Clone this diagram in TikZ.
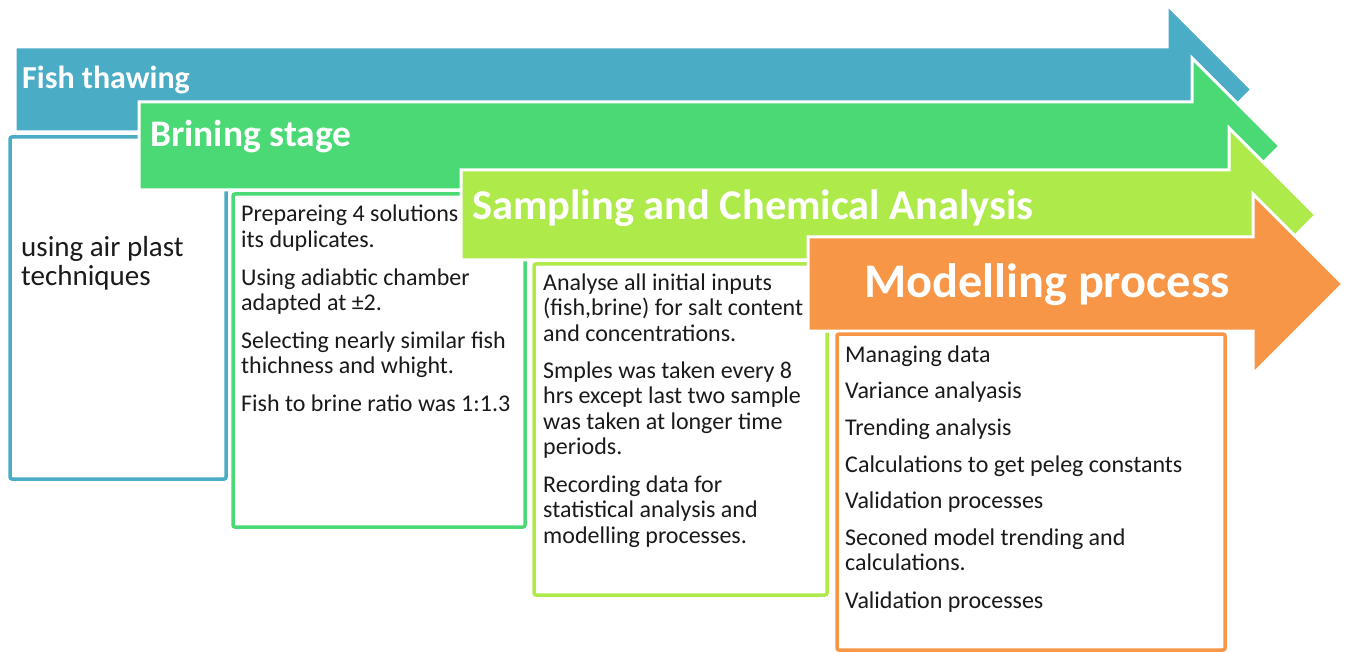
\documentclass[tikz,border=0pt]{standalone}
\usepackage{fontspec}
\setmainfont{Carlito}
\definecolor{cblue}{HTML}{4BACC6}
\definecolor{cgreen}{HTML}{4AD975}
\definecolor{clime}{HTML}{AEEA4A}
\definecolor{corange}{HTML}{F79646}
\definecolor{ctext}{HTML}{1A1A1A}
\tikzset{
  stagearrow/.style={fill=#1, draw=white, line width=3pt, line join=miter},
  infobox/.style={draw=#1, fill=white, line width=3.5pt, rounded corners=2pt},
  headtext/.style={text=white, font=\bfseries\fontsize{#1}{#1}\selectfont, inner sep=0pt, anchor=base west},
  bodytext/.style={text=ctext, font=\fontsize{24}{25.5}\selectfont, inner sep=0pt, anchor=base west},
}
\begin{document}
\begin{tikzpicture}[x=1pt,y=-1pt]
\useasboundingbox (0,0) rectangle (1351,652);
% Fish thawing
\path[stagearrow=cblue] (15,47) -- (1167,47) -- (1167,4.5) -- (1252,89.5) -- (1167,174.5) -- (1167,132) -- (15,132) -- cycle;
\node[headtext=32] (h1) at (22,89) {Fish thawing};
\path[infobox=cblue] (10,137) rectangle (226,479);
\node[bodytext, font=\fontsize{29}{28}\selectfont] (t1a) at (21,257) {using air plast};
\node[bodytext, font=\fontsize{29}{28}\selectfont] (t1b) at (21,285) {techniques};
% Brining stage
\path[stagearrow=cgreen] (139,102) -- (1192,102) -- (1192,58) -- (1280,146) -- (1192,234) -- (1192,190) -- (139,190) -- cycle;
\node[headtext=37.5] (h2) at (150,147) {Brining stage};
\path[infobox=cgreen] (233,194) rectangle (525,527);
\foreach \yy/\tt [count=\i] in {222/{Prepareing 4 solutions}, 247.5/{its duplicates.}, 285/{Using adiabtic chamber}, 310.5/{adapted at ±2.}, 348/{Selecting nearly similar fish}, 373.5/{thichness and whight.}, 411/{Fish to brine ratio was 1:1.3}}
  \node[bodytext] (t2-\i) at (241,\yy) {\tt};
% Sampling
\path[stagearrow=clime] (461,170) -- (1229,170) -- (1229,128) -- (1316,215) -- (1229,302) -- (1229,260) -- (461,260) -- cycle;
\node[headtext=42.4] (h3) at (472,220) {Sampling and Chemical Analysis};
\path[infobox=clime] (534,264) rectangle (827,595);
\foreach \yy/\tt [count=\i] in {290/{Analyse all initial inputs}, 315.5/{(fish,brine) for salt content}, 341/{and concentrations.}, 378/{Smples was taken every 8}, 403.5/{hrs except last two sample}, 429/{was taken at longer time}, 454.5/{periods.}, 492/{Recording data for}, 517.5/{statistical analysis and}, 543/{modelling processes.}}
  \node[bodytext] (t3-\i) at (543,\yy) {\tt};
% Modelling
\path[stagearrow=corange] (808,237) -- (1253,237) -- (1253,194) -- (1343,284) -- (1253,374) -- (1253,331) -- (808,331) -- cycle;
\node[headtext=48.3] (h4) at (864,298) {Modelling process};
\path[infobox=corange] (837,334) rectangle (1225,650);
\foreach \yy/\tt [count=\i] in {362/{Managing data}, 398/{Variance analyasis}, 435/{Trending analysis}, 472/{Calculations to get peleg constants}, 508/{Validation processes}, 545/{Seconed model trending and}, 570.5/{calculations.}, 608/{Validation processes}}
  \node[bodytext] (t4-\i) at (845,\yy) {\tt};
\end{tikzpicture}
\end{document}
